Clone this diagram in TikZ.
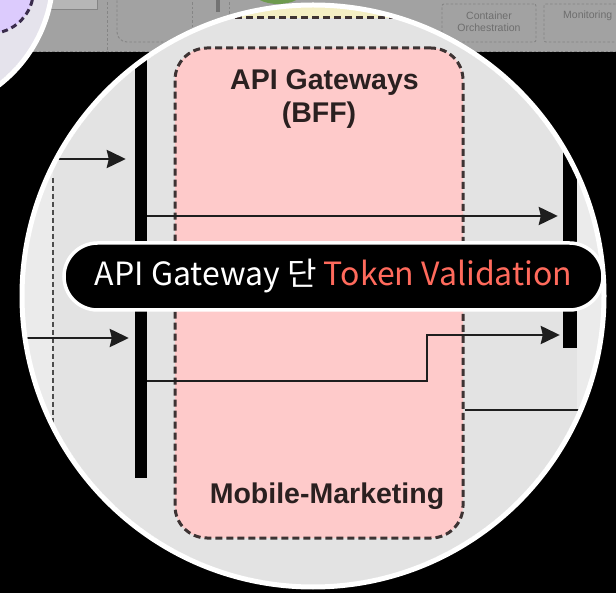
\documentclass[tikz,border=0pt]{standalone}
\usepackage{fontspec}
\setmainfont{Liberation Sans}
\newfontfamily\krfont{Noto Sans CJK KR}
\usetikzlibrary{arrows.meta}
\definecolor{bandgrey}{HTML}{A2A2A2}
\definecolor{bandline}{HTML}{858585}
\definecolor{bandtext}{HTML}{6E6E6E}
\definecolor{boxfill}{HTML}{B6B6B6}
\definecolor{lensbg}{HTML}{E3E3E3}
\definecolor{lenslight}{HTML}{EBEBEB}
\definecolor{pinkfill}{HTML}{FECACA}
\definecolor{dashdark}{HTML}{3D3333}
\definecolor{titletext}{HTML}{2A2020}
\definecolor{yellowfill}{HTML}{F4EFC4}
\definecolor{lavender}{HTML}{DCCBFD}
\definecolor{lavgrey}{HTML}{E5E3EC}
\definecolor{lavdash}{HTML}{3A2C4C}
\definecolor{greenblob}{HTML}{6E9A4E}
\definecolor{salmon}{HTML}{FF6A5C}
\definecolor{connline}{HTML}{1E1E1E}
\begin{document}
\begin{tikzpicture}[x=1pt,y=-1pt,
  bandbox/.style={draw=bandline, line width=0.9pt, dash pattern=on 2.5pt off 2pt, rounded corners=2pt},
  bandtxt/.style={text=bandtext, font=\fontsize{10.5}{12}\selectfont, align=center, inner sep=0pt},
  pinkbox/.style={fill=pinkfill, draw=dashdark, line width=3pt, dash pattern=on 7pt off 4pt, rounded corners=32pt, minimum width=288pt, minimum height=490pt, inner sep=0pt},
  titletxt/.style={text=titletext, font=\fontsize{28.5}{33}\selectfont\bfseries, inner sep=0pt, anchor=base},
  barnode/.style={fill=black, minimum width=12pt, inner sep=0pt, draw=none},
  conn/.style={draw=connline, line width=2.6pt},
  arr/.style={conn, -{Stealth[length=19pt, width=18pt, inset=2pt]}},
  thindash/.style={draw=black!70, line width=1.2pt, dash pattern=on 5pt off 3pt},
  pill/.style={fill=black, draw=white, line width=3.5pt, rounded corners=33.5pt, minimum width=539pt, minimum height=67pt, inner sep=0pt, text=white, font=\krfont\fontsize{32}{32}\selectfont}
]
\useasboundingbox (0,0) rectangle (616,593);
\fill[black] (-2,-2) rectangle (618,595);

% ---------- top grey band (background diagram) ----------
\fill[bandgrey] (-2,-2) rectangle (618,52);
\draw[bandline, line width=0.9pt, dash pattern=on 2.5pt off 2pt] (-2,51.5) -- (618,51.5);
\draw[draw=bandline, fill=boxfill, line width=1pt] (20,-6) rectangle (97,10);
\draw[bandline, line width=0.9pt, dash pattern=on 2.5pt off 2pt] (107,-2) -- (107,52);
\draw[bandbox, rounded corners=10pt] (117,-4) -- (117,42) -- (230,42);
\draw[bandline, line width=0.9pt, dash pattern=on 2.5pt off 2pt] (192,-2) -- (192,40);
\fill[black!55] (216,-2) rectangle (220,12);
\draw[bandline, line width=0.9pt, dash pattern=on 2.5pt off 2pt] (229,-2) -- (229,30);
\fill[greenblob] (278,-10) ellipse [x radius=26, y radius=14];
\node[bandbox, minimum width=94pt, minimum height=38pt, inner sep=0pt] (co) at (489,23) {};
\node[bandtxt] (cotxt) at (489,21.5) {Container\\Orchestration};
\node[bandbox, minimum width=96pt, minimum height=38pt, inner sep=0pt] (mon) at (592,23) {};
\node[bandtxt, anchor=west] (montxt) at (563,15.5) {Monitoring};

% ---------- small purple lens, top left ----------
\begin{scope}
  \clip (-86,-25) circle[radius=137];
  \fill[lavgrey] (-86,-25) circle[radius=137];
  \fill[lavender] (-10,-10) circle[radius=43.5];
  \draw[lavdash, line width=3pt, dash pattern=on 6pt off 4pt] (-10,-10) circle[radius=43.5];
\end{scope}
\draw[white, line width=5pt] (-86,-25) circle[radius=139];

% ---------- main lens ----------
\begin{scope}
  \clip (313,296) circle[radius=289];
  \fill[lensbg] (0,0) rectangle (616,593);
  \fill[lenslight] (0,150) rectangle (53,593);
  \fill[lenslight] (577,0) rectangle (616,593);
  \fill[yellowfill] (180,-10) rectangle (440,18);
  \draw[dashdark, line width=3pt, dash pattern=on 7pt off 4pt] (180,18) -- (440,18);

  \node[pinkbox] (bff) at (319,293) {};
  \node[titletxt] (t1) at (324.5,90) {API Gateways};
  \node[titletxt] (t2) at (319,123) {(BFF)};
  \node[titletxt] (t3) at (327,503) {Mobile-Marketing};

  \draw[thindash] (53,178) -- (53,600);

  \node[barnode, minimum height=460pt] (lbar) at (141,248) {};
  \node[barnode, minimum width=14pt, minimum height=260pt] (rbar) at (570,218) {};

  \coordinate (in1) at (10,159);
  \coordinate (in2) at (10,338);
  \coordinate (y1) at (0,216);
  \coordinate (s1) at (0,381);
  \coordinate (step) at (427,335);
  \coordinate (out) at (625,410);

  \draw[arr, shorten >=9pt] (in1) -- (lbar.west |- in1);
  \draw[arr, shorten >=6pt] (in2) -- (lbar.west |- in2);
  \draw[arr, shorten >=5pt] (lbar.east |- y1) -- (rbar.west |- y1);
  \draw[arr, shorten >=3pt] (lbar.east |- s1) -| (step) -- (rbar.west |- step);
  \draw[conn] (bff.east |- out) -- (out);
\end{scope}
\draw[white, line width=5pt] (313,296) circle[radius=291];

% ---------- caption pill ----------
\node[pill] (label) at (333.5,276.5) {API Gateway 단 \textcolor{salmon}{Token Validation}};
\end{tikzpicture}
\end{document}
